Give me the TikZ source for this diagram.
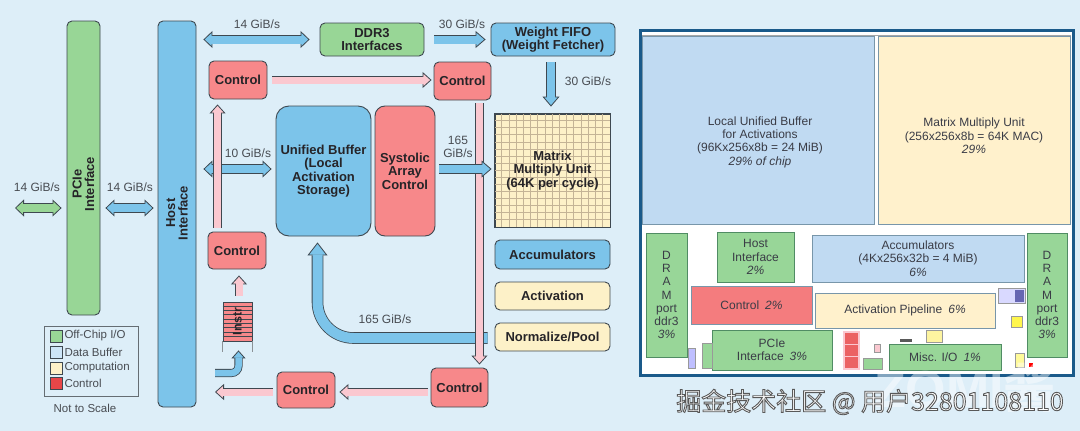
\documentclass[tikz,border=0pt]{standalone}
\usepackage{fontspec}
\setmainfont{Liberation Sans}
\newfontfamily\cjkfont{Noto Sans CJK SC}
\usetikzlibrary{arrows.meta,calc}
\definecolor{bg}{RGB}{221,238,248}
\definecolor{grn}{RGB}{152,214,150}
\definecolor{blu}{RGB}{124,196,234}
\definecolor{ctl}{RGB}{247,136,138}
\definecolor{pnk}{RGB}{250,200,208}
\definecolor{yel}{RGB}{253,241,200}
\definecolor{edge}{RGB}{62,72,80}
\definecolor{txt}{RGB}{38,36,40}
\definecolor{rategray}{RGB}{72,76,82}
\definecolor{gridc}{RGB}{196,180,150}
\definecolor{legblue}{RGB}{205,230,248}
\definecolor{legred}{RGB}{232,70,72}
\definecolor{dieblue}{RGB}{192,218,242}
\definecolor{dieyel}{RGB}{255,241,204}
\definecolor{diegrn}{RGB}{152,214,152}
\definecolor{diered}{RGB}{244,124,126}
\definecolor{dieedge}{RGB}{120,150,170}
\definecolor{grnedge}{RGB}{80,140,100}
\definecolor{frame}{RGB}{26,90,138}
\definecolor{dietxt}{RGB}{58,60,70}
\newcommand\outlinedtext[1]{\special{pdf:code 2 Tr 0.9 w 0.35 G}#1\special{pdf:code 0 Tr}}
\tikzset{
  boxbase/.style={draw=edge, line width=0.9pt, align=center, text=txt, inner sep=0pt,
    font=\bfseries\fontsize{13}{13.4}\selectfont},
  ctlbox/.style={boxbase, fill=ctl, rounded corners=5pt},
  blubox/.style={boxbase, fill=blu, rounded corners=5pt},
  grnbox/.style={boxbase, fill=grn, rounded corners=5pt},
  yelbox/.style={boxbase, fill=yel, rounded corners=5pt},
  rate/.style={font=\fontsize{12}{13}\selectfont, text=rategray, inner sep=0pt, align=center},
  pinkarrow/.style={draw=pnk, line width=7pt, shorten >=8pt,
    preaction={draw=edge, line width=8.6pt, shorten >=0pt,
      -{Triangle[length=9pt,width=16pt,fill=pnk,color=edge,line width=0.8pt]}}},
  bluarrow/.style={draw=blu, line width=8pt, shorten >=8pt,
    preaction={draw=edge, line width=9.6pt, shorten >=0pt,
      -{Triangle[length=10pt,width=17pt,fill=blu,color=edge,line width=0.8pt]}}},
  bigarrow/.style={draw=blu, line width=10pt, shorten >=12pt,
    preaction={draw=edge, line width=11.6pt, shorten >=0pt,
      -{Triangle[length=13pt,width=20pt,fill=blu,color=edge,line width=0.8pt]}}},
  smallblu/.style={draw=blu, line width=6.5pt, shorten >=7pt,
    preaction={draw=edge, line width=8.1pt, shorten >=0pt,
      -{Triangle[length=8pt,width=14pt,fill=blu,color=edge,line width=0.8pt]}}},
  bludbl/.style={draw=blu, line width=8pt, shorten >=8pt, shorten <=8pt,
    preaction={draw=edge, line width=9.6pt, shorten >=0pt, shorten <=0pt,
      {Triangle[length=9pt,width=17pt,fill=blu,color=edge,line width=0.8pt]}-{Triangle[length=9pt,width=17pt,fill=blu,color=edge,line width=0.8pt]}}},
  grndbl/.style={draw=grn, line width=8pt, shorten >=8pt, shorten <=8pt,
    preaction={draw=edge, line width=9.6pt, shorten >=0pt, shorten <=0pt,
      {Triangle[length=9pt,width=17pt,fill=grn,color=edge,line width=0.8pt]}-{Triangle[length=9pt,width=17pt,fill=grn,color=edge,line width=0.8pt]}}},
  legsw/.style={draw=edge, line width=0.6pt, minimum width=12pt, minimum height=12pt, inner sep=0pt},
  legtxt/.style={font=\fontsize{11.5}{12}\selectfont, text=rategray, inner sep=0pt, anchor=west},
  diebox/.style={draw=dieedge, line width=0.7pt, inner sep=0pt, align=center, text=dietxt,
    font=\fontsize{12}{13.4}\selectfont},
  diegreen/.style={diebox, fill=diegrn, draw=grnedge},
  bit/.style={draw=black!40, line width=0.4pt},
}
\begin{document}
\begin{tikzpicture}[x=1pt,y=-1pt]
\useasboundingbox (0,0) rectangle (1080,431);
\fill[bg] (0,0) rectangle (1080,431);

% ---------- left block diagram ----------
\node[grnbox, minimum width=33, minimum height=294] (pcie) at (83.5,168) {};
\node[boxbase, draw=none, rotate=90, font=\bfseries\fontsize{13}{12.5}\selectfont] (pcietxt) at (83.5,184) {PCIe\\Interface};
\node[blubox, minimum width=38, minimum height=386] (host) at (177,214) {};
\node[boxbase, draw=none, rotate=90, font=\bfseries\fontsize{13}{12.5}\selectfont] (hosttxt) at (177,213) {Host\\Interface};

\node[ctlbox, minimum width=58, minimum height=38] (c1) at (238,80) {Control};
\node[ctlbox, minimum width=57, minimum height=38] (c2) at (462.5,81) {Control};
\node[ctlbox, minimum width=58, minimum height=37] (c3) at (237,250.5) {Control};
\node[ctlbox, minimum width=58, minimum height=36] (c4) at (306,390) {Control};
\node[ctlbox, minimum width=57, minimum height=39] (c5) at (459.5,387.5) {Control};

\node[blubox, rounded corners=13pt, minimum width=95, minimum height=130] (ub) at (323.5,171)
  {Unified Buffer\\(Local\\Activation\\Storage)};
\node[ctlbox, rounded corners=10pt, minimum width=60, minimum height=130] (sac) at (405,171)
  {Systolic\\Array\\Control};

\node[boxbase, fill=yel, minimum width=115, minimum height=113] (mmu) at (552.5,170.5) {};
\foreach \i in {1,...,15} {
  \draw[gridc, line width=0.5pt] ($(mmu.north west)+(\i*7.1875,0)$) -- ($(mmu.south west)+(\i*7.1875,0)$);
  \draw[gridc, line width=0.5pt] ($(mmu.north west)+(0,\i*7.0625)$) -- ($(mmu.north east)+(0,\i*7.0625)$);
}
\draw[edge, line width=0.9pt] (mmu.south west) rectangle (mmu.north east);
\node[boxbase, draw=none] (mmutxt) at (mmu.center) {Matrix\\Multiply Unit\\(64K per cycle)};

\node[blubox, minimum width=124, minimum height=33] (wf) at (553,39.5) {Weight FIFO\\(Weight Fetcher)};
\node[grnbox, minimum width=104, minimum height=33] (ddr) at (372,39.5) {DDR3\\Interfaces};
\node[blubox, minimum width=115, minimum height=29] (acc) at (552.5,254.5) {Accumulators};
\node[yelbox, minimum width=115, minimum height=28] (act) at (552.5,296) {Activation};
\node[yelbox, minimum width=115, minimum height=28] (np) at (552.5,337) {Normalize/Pool};

% instruction stack
\node[draw=edge, line width=0.8pt, fill=ctl, minimum width=29, minimum height=39, inner sep=0pt] (instr) at (237.5,321.5) {};
\foreach \i in {1,...,8} {
  \draw[edge, line width=0.5pt] ($(instr.north west)+(0,\i*4.33)$) -- ($(instr.north east)+(0,\i*4.33)$);
}
\draw[edge!60, line width=0.6pt] (instr.south west) -- ++(0,11);
\draw[edge!60, line width=0.6pt] (instr.south east) -- ++(0,11);
\node[boxbase, draw=none, rotate=90, font=\bfseries\fontsize{12.5}{13}\selectfont] (instrtxt) at (instr.center) {Instr};

% coordinates for free ends
\coordinate (io) at (15,208);
\coordinate (yb) at (0,392);
\coordinate (lout) at (215,392);
\coordinate (bstart) at (215,373);

% arrows
\draw[grndbl] (io) -- ($(pcie.west|-io)+(-5,0)$);
\draw[bludbl] ($(pcie.east|-io)+(5,0)$) -- ($(host.west|-io)+(-4,0)$);
\draw[bludbl] ($(host.east|-ddr)+(7,0)$) -- ($(ddr.west)+(-10,0)$);
\draw[bluarrow] ($(ddr.east)+(10,0)$) -- ($(wf.west)+(-5,0)$);
\draw[bluarrow] ($(wf.south)+(-2,6)$) -- ($(wf.south|-mmu.north)+(-2,-7)$);
\draw[bludbl] ($(host.east)+(7,-45)$) -- ($(ub.west)+(-4,-2)$);
\draw[pinkarrow] ($(c1.east)+(5,0)$) -- ($(c2.west)+(-2,-1)$);
\draw[pinkarrow] ($(c3.north west)+(10,-4)$) -- ($(c3.north west|-c1.south)+(10,5)$);
\draw[pinkarrow] ($(instr.north)+(1.5,-6)$) -- ($(instr.north|-c3.south)+(1.5,6)$);
\draw[smallblu, rounded corners=7pt] (bstart) -| ($(instr.south)+(1,9)$);
\draw[bigarrow, rounded corners=36pt] ($(np.west)+(-7,1)$) -| ($(ub.south)+(-6,6)$);
\draw[pinkarrow] ($(c2.south east)+(-12,3)$) -- ($(c2.south east|-c5.north)+(-12,-3)$);
\draw[bluarrow] ($(sac.east)+(4,-2)$) -- ($(mmu.west)+(-3,-1.5)$);
\draw[pinkarrow] ($(c5.west|-yb)+(-3,0)$) -- ($(c4.east|-yb)+(4,0)$);
\draw[pinkarrow] ($(c4.west|-yb)+(-4,0)$) -- (lout);

% rate labels
\node[rate] (r1) at (37,187) {14 GiB/s};
\node[rate] (r2) at (130,187) {14 GiB/s};
\node[rate] (r3) at (257,24) {14 GiB/s};
\node[rate] (r4) at (248,153) {10 GiB/s};
\node[rate] (r5) at (462,24) {30 GiB/s};
\node[rate] (r6) at (588,81) {30 GiB/s};
\node[rate] (r7) at (458,147) {165\\GiB/s};
\node[rate] (r8) at (385,319) {165 GiB/s};

% legend
\node[draw=edge!80, line width=0.6pt, minimum width=94, minimum height=70, inner sep=0pt] (legend) at (91,361) {};
\node[legsw, fill=grn] (l1) at (56,336) {};
\node[legsw, fill=legblue] (l2) at (56,352) {};
\node[legsw, fill=yel] (l3) at (56,368) {};
\node[legsw, fill=legred] (l4) at (56,383.5) {};
\node[legtxt] at ($(l1.east)+(2,0)$) {Off-Chip I/O};
\node[legtxt] at ($(l2.east)+(2,0)$) {Data Buffer};
\node[legtxt] at ($(l3.east)+(2,0)$) {Computation};
\node[legtxt] at ($(l4.east)+(2,0)$) {Control};
\node[rate, font=\fontsize{11.5}{12}\selectfont] (nts) at (85,408) {Not to Scale};

% ---------- right die photo ----------
\draw[frame, line width=3pt, fill=white] (640,30) rectangle (1073,375);
\draw[black!35, line width=0.8pt] (642,35) -- (1071,35);
\node[diebox, fill=dieblue, minimum width=232, minimum height=188] (dlub) at (758,130) {};
\node[diebox, draw=none] (dlubt) at (760,142) {Local Unified Buffer\\for Activations\\(96Kx256x8b = 24 MiB)\\\textit{29\% of chip}};
\node[diebox, fill=dieyel, minimum width=192, minimum height=188] (dmmu) at (974,130) {};
\node[diebox, draw=none] (dmmut) at (974,136) {Matrix Multiply Unit\\(256x256x8b = 64K MAC)\\\textit{29\%}};

\node[diegreen, minimum width=41, minimum height=124, font=\fontsize{12}{13.3}\selectfont] (ddl) at (666.5,295) {D\\R\\A\\M\\port\\ddr3\\\textit{3\%}};
\node[diegreen, minimum width=40, minimum height=124, font=\fontsize{12}{13.3}\selectfont] (ddr2) at (1047,295) {D\\R\\A\\M\\port\\ddr3\\\textit{3\%}};
\node[diegreen, minimum width=77, minimum height=50] (dhost) at (755.5,257) {Host\\Interface\\\textit{2\%}};
\node[diebox, fill=dieblue, minimum width=212, minimum height=47] (dacc) at (918,258.5) {Accumulators\\(4Kx256x32b = 4 MiB)\\\textit{6\%}};
\node[diebox, fill=diered, minimum width=121, minimum height=38] (dctl) at (751.5,305) {Control\enspace\textit{2\%}};
\node[diebox, fill=dieyel, minimum width=180, minimum height=35] (dact) at (905,310.5) {Activation Pipeline\enspace\textit{6\%}};
\node[diegreen, minimum width=120, minimum height=40] (dpcie) at (772,350) {PCIe\\Interface\enspace\textit{3\%}};
\node[diegreen, minimum width=112, minimum height=26] (dmisc) at (945,357) {Misc. I/O\enspace\textit{1\%}};

% small blocks
\fill[pnk] (843,331) rectangle (860,370);
\fill[legred!85] (845,333) rectangle (858,344);
\fill[legred!85] (845,345) rectangle (858,356);
\fill[legred!85] (845,357) rectangle (858,368);
\draw[bit, fill=pnk] (874,344) rectangle (880,352);
\draw[bit, fill=diegrn] (863,358) rectangle (882,369);
\fill[black!65] (900,339) rectangle (912,342);
\draw[bit, fill=yel!80!yellow] (926,330) rectangle (942,342);
\draw[bit, fill=blue!15] (998,288) rectangle (1025,303);
\fill[blue!50!black!60] (1015,290) rectangle (1024,302);
\draw[bit, fill=yellow!70] (1011,316) rectangle (1022,327);
\draw[bit, fill=yellow!40] (1015,353) rectangle (1024,367);
\fill[red] (1029,363) rectangle (1033,367);
\draw[bit, fill=blue!25] (688,348) rectangle (695,368);
\draw[bit, fill=diegrn] (702,343) rectangle (712,368);

% watermark
\node[font=\bfseries\fontsize{52}{52}\selectfont, text=white, opacity=0.45, inner sep=0pt] (zomi) at (965,388) {ZOMI{\cjkfont 酱}};
\node[font=\cjkfont\fontsize{25}{25}\selectfont, text=white, inner sep=0pt] (wm) at (870,402) {\outlinedtext{掘金技术社区 @ 用户32801108110}};
\end{tikzpicture}
\end{document}
